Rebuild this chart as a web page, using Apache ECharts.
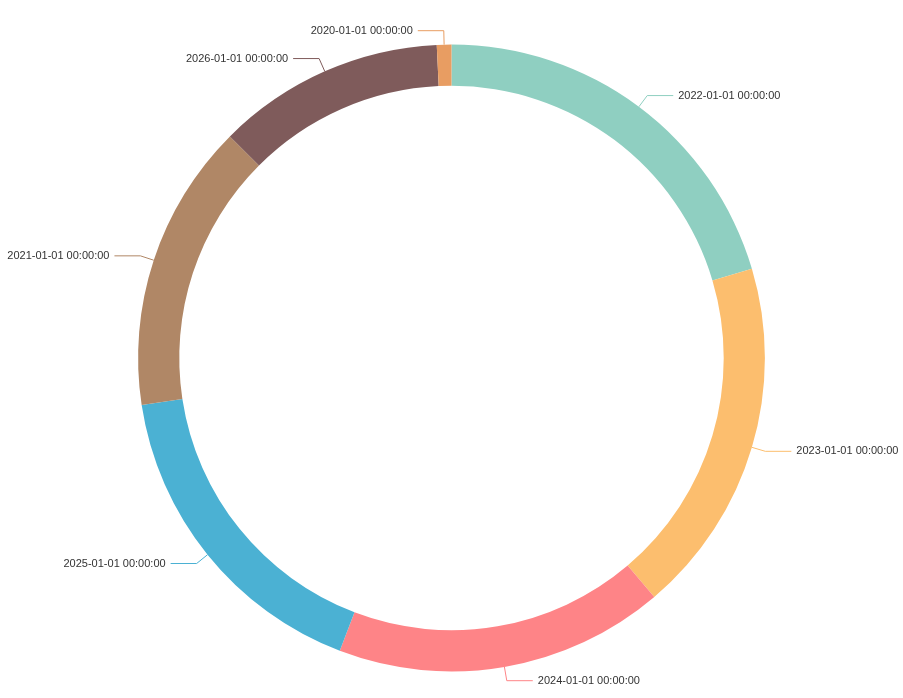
<!DOCTYPE html>
<html>
<head>
<meta charset="utf-8">
<script src="https://cdn.jsdelivr.net/npm/echarts@6/dist/echarts.min.js"></script>
<style>
html,body{margin:0;padding:0;background:#fff;}
#chart{width:903px;height:698px;}
</style>
</head>
<body>
<div id="chart"></div>
<script>
const categories = ["2022-01-01 00:00:00","2023-01-01 00:00:00","2024-01-01 00:00:00","2025-01-01 00:00:00","2021-01-01 00:00:00","2026-01-01 00:00:00","2020-01-01 00:00:00"];
const values = [20.4, 18.4, 17.0, 16.8, 14.9, 11.75, 0.75];
const colors = ["#8fcfc1","#fcbe6e","#fe8487","#4bb1d3","#b08766","#7f5b5b","#e89d62"];

const chart = echarts.init(document.getElementById('chart'));
chart.setOption({
  animation: false,
  color: colors,
  series: [{
    type: 'pie',
    center: ['50%', 358],
    radius: ['78%', '89.8%'],
    data: categories.map((c, i) => ({ name: c, value: values[i] })),
    label: {
      show: true,
      position: 'outside',
      fontSize: 11,
      color: '#333',
      overflow: 'none',
      fontFamily: 'Liberation Sans, Arial, sans-serif'
    },
    labelLine: { show: true, length: 14, length2: 26 },
    emphasis: { disabled: true }
  }]
});
</script>
</body>
</html>
